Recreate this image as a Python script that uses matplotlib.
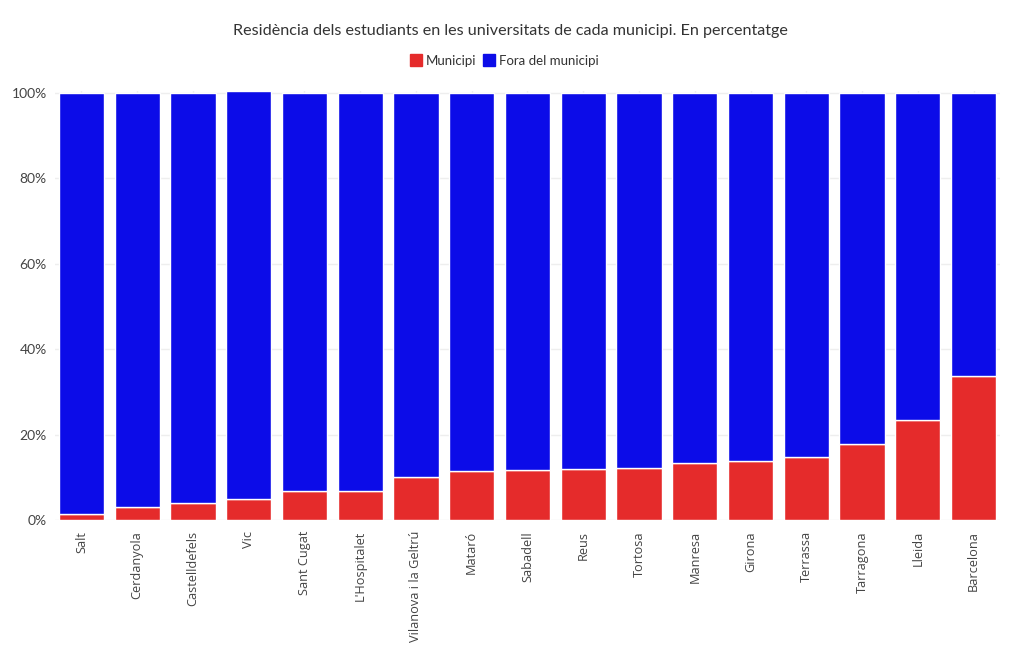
import matplotlib
matplotlib.use("Agg")
import matplotlib.pyplot as plt
import matplotlib.ticker as ticker
from matplotlib.lines import Line2D
import numpy as np

municipis = ['Salt', 'Cerdanyola', 'Castelldefels', 'Vic', 'Sant Cugat', "L'Hospitalet",
             'Vilanova i la Geltrú', 'Mataró', 'Sabadell', 'Reus', 'Tortosa', 'Manresa',
             'Girona', 'Terrassa', 'Tarragona', 'Lleida', 'Barcelona']
municipi = [1.4, 3.1, 4.0, 4.8, 6.8, 6.9, 10.1, 11.5, 11.6, 11.9, 12.2, 13.3, 13.7, 14.7, 17.9, 23.4, 33.8]
fora = [98.6, 96.9, 96.0, 95.5, 93.2, 93.1, 89.9, 88.5, 88.4, 88.1, 87.8, 86.7, 86.3, 85.3, 82.1, 76.6, 66.2]

red = '#E52B2B'
blue = '#0C0CE8'
txt = '#444444'

plt.rcParams['font.family'] = ['Lato', 'DejaVu Sans']

fig = plt.figure(figsize=(10.2, 6.5), dpi=100)
ax = fig.add_axes([0.0539, 0.2, 0.9265, 0.66])

x = np.arange(len(municipis))
ax.bar(x, municipi, width=0.81, color=red, edgecolor='white', linewidth=1, zorder=3)
ax.bar(x, fora, bottom=municipi, width=0.81, color=blue, edgecolor='white', linewidth=1, zorder=3)

ax.set_xlim(-0.475, len(municipis) - 0.525)
ax.set_ylim(0, 100.4)
ax.yaxis.set_major_locator(ticker.MultipleLocator(20))
ax.yaxis.set_major_formatter(ticker.FuncFormatter(lambda v, p: f'{v:.0f}%'))
ax.grid(axis='y', color='#eeeeee', linewidth=1, zorder=0)
ax.grid(axis='x', color='#eeeeee', linewidth=1, zorder=0)
for s in ax.spines.values():
    s.set_visible(False)
ax.tick_params(axis='y', length=0, labelsize=10, labelcolor=txt, pad=6)
ax.tick_params(axis='x', length=0, pad=8)
ax.set_xticks(x)
ax.set_xticklabels(municipis, rotation=90, fontsize=9.2, color=txt, family=['Open Sans', 'DejaVu Sans'])

fig.text(0.5, 0.953, 'Residència dels estudiants en les universitats de cada municipi. En percentatge',
         ha='center', va='center', fontsize=11.6, color='#333333')

handles = [Line2D([], [], marker='s', linestyle='none', markersize=9, markerfacecolor=red, markeredgecolor=red),
           Line2D([], [], marker='s', linestyle='none', markersize=9, markerfacecolor=blue, markeredgecolor=blue)]
fig.legend(handles, ['Municipi', 'Fora del municipi'], loc='center', bbox_to_anchor=(0.494, 0.906),
           ncol=2, frameon=False, fontsize=9.5, handletextpad=0.25, columnspacing=0.5,
           handlelength=1.0, labelcolor='#333333')

fig.savefig('out.png', dpi=100)
